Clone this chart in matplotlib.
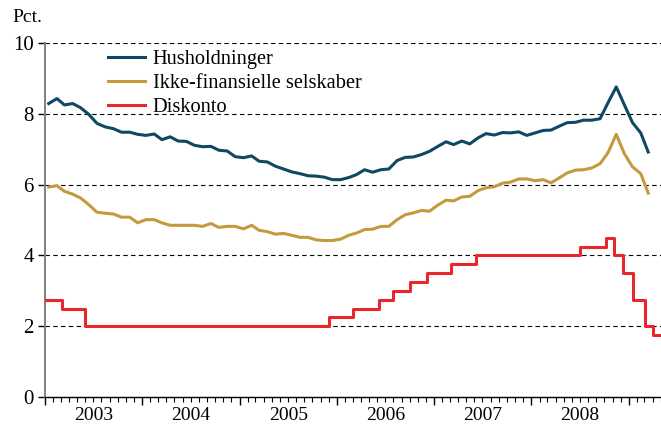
#!/usr/bin/env python3
"""Udlaansrenter for husholdninger og selskaber samt diskontoen, 2003-2009."""

from datetime import date, datetime

import matplotlib

matplotlib.use("Agg")
import matplotlib.dates as mdates
import matplotlib.pyplot as plt
from matplotlib.transforms import blended_transform_factory

# monthly observations, Jan 2003 - Mar 2009
start_month = date(2003, 1, 15)
husholdninger = [
    8.29, 8.43, 8.25, 8.29, 8.17, 7.98, 7.73, 7.63, 7.58, 7.48, 7.48, 7.42,
    7.39, 7.43, 7.27, 7.35, 7.23, 7.22, 7.11, 7.07, 7.08, 6.97, 6.95, 6.79,
    6.76, 6.81, 6.66, 6.64, 6.52, 6.44, 6.36, 6.31, 6.25, 6.24, 6.21, 6.14,
    6.14, 6.20, 6.28, 6.42, 6.35, 6.42, 6.44, 6.68, 6.77, 6.78, 6.85, 6.94,
    7.08, 7.21, 7.13, 7.23, 7.15, 7.32, 7.44, 7.40, 7.47, 7.46, 7.49, 7.39,
    7.46, 7.53, 7.54, 7.65, 7.75, 7.76, 7.82, 7.82, 7.86, 8.31, 8.76, 8.26,
    7.75, 7.46, 6.92,
]
ikke_finansielle = [
    5.93, 5.97, 5.81, 5.73, 5.62, 5.43, 5.22, 5.19, 5.17, 5.08, 5.08, 4.92,
    5.01, 5.01, 4.92, 4.85, 4.85, 4.85, 4.85, 4.82, 4.90, 4.79, 4.82, 4.82,
    4.75, 4.85, 4.71, 4.67, 4.60, 4.62, 4.57, 4.51, 4.51, 4.44, 4.42, 4.42,
    4.46, 4.57, 4.63, 4.73, 4.74, 4.82, 4.82, 5.01, 5.15, 5.20, 5.27, 5.25,
    5.42, 5.56, 5.54, 5.65, 5.67, 5.83, 5.91, 5.94, 6.04, 6.07, 6.16, 6.16,
    6.11, 6.14, 6.05, 6.19, 6.33, 6.41, 6.42, 6.47, 6.59, 6.90, 7.42, 6.88,
    6.50, 6.31, 5.76,
]

# discount rate: date of each change and the new level
diskonto_dates = [
    "2003-01-01", "2003-03-04", "2003-06-02", "2005-12-03", "2006-03-01",
    "2006-06-10", "2006-08-01", "2006-10-04", "2006-12-07", "2007-03-07",
    "2007-06-07", "2008-07-01", "2008-10-07", "2008-11-07", "2008-12-10",
    "2009-01-16", "2009-03-04", "2009-04-01", "2009-05-02",
]
diskonto_levels = [
    2.75, 2.50, 2.00, 2.25, 2.50, 2.75, 3.00, 3.25, 3.50, 3.75,
    4.00, 4.25, 4.50, 4.00, 3.50, 2.75, 2.00, 1.75, 1.75,
]

year_labels = ["2003", "2004", "2005", "2006", "2007", "2008"]
y_ticks = [0, 2, 4, 6, 8, 10]

COL_HUS = "#0f4863"
COL_IKKE = "#c49a3e"
COL_DISK = "#e8272d"


def month_dates(n):
    out = []
    y, m = start_month.year, start_month.month
    for _ in range(n):
        out.append(datetime(y, m, 15))
        m += 1
        if m > 12:
            m, y = 1, y + 1
    return out


def main():
    plt.rcParams["font.family"] = ["Liberation Serif", "DejaVu Serif"]
    fig = plt.figure(figsize=(6.61, 4.25), dpi=100)
    ax = fig.add_axes([45 / 661, 1 - 397 / 425, 616 / 661, 354 / 425])

    x = month_dates(len(husholdninger))
    dx = [datetime.strptime(d, "%Y-%m-%d") for d in diskonto_dates]

    for yv in y_ticks[1:]:
        ax.axhline(yv, color="black", lw=0.8, ls=(0, (4, 3)), zorder=1)

    ax.plot(x, husholdninger, color=COL_HUS, lw=2.2, label="Husholdninger", zorder=3)
    ax.plot(x, ikke_finansielle, color=COL_IKKE, lw=2.2,
            label="Ikke-finansielle selskaber", zorder=3)
    ax.step(dx, diskonto_levels, where="post", color=COL_DISK, lw=2.2,
            label="Diskonto", zorder=3)

    ax.set_xlim(datetime(2003, 1, 1), datetime(2009, 5, 2))
    ax.set_ylim(0, 10)

    for side in ("top", "right"):
        ax.spines[side].set_visible(False)
    ax.spines["left"].set_color("#808080")
    ax.spines["left"].set_linewidth(1.4)
    ax.spines["bottom"].set_color("black")
    ax.spines["bottom"].set_linewidth(1.0)

    ax.set_yticks(y_ticks)
    ax.set_yticklabels([str(v) for v in y_ticks], fontsize=15)
    ax.tick_params(axis="y", length=5, width=1.0, color="black", pad=3)

    ax.xaxis.set_major_locator(mdates.YearLocator())
    ax.xaxis.set_minor_locator(mdates.MonthLocator())
    ax.tick_params(axis="x", which="major", length=6, width=1.0, labelbottom=False)
    ax.tick_params(axis="x", which="minor", length=3.5, width=0.8)

    # year labels sit mid-year, baseline a few pixels above the bottom edge
    trans = blended_transform_factory(ax.transData, ax.transAxes)
    for label in year_labels:
        yr = int(label)
        ax.text(datetime(yr, 7, 2), -0.065, label, transform=trans,
                ha="center", va="baseline", fontsize=14)

    fig.text(12 / 661, 1 - 18 / 425, "Pct.", ha="left", va="center", fontsize=14)

    ax.legend(loc="upper left", bbox_to_anchor=(0.102, 0.982), frameon=False,
              fontsize=14.7, handlelength=1.8, handletextpad=0.4,
              labelspacing=0.235, borderpad=0, borderaxespad=0)

    fig.savefig("out.png", dpi=100)
    plt.close(fig)


if __name__ == "__main__":
    main()
